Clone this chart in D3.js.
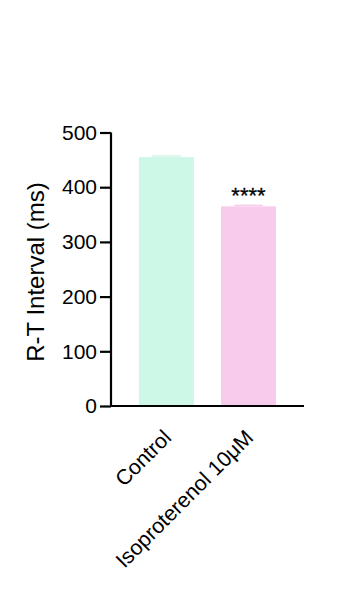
<!DOCTYPE html>
<html><head><meta charset="utf-8">
<script src="https://cdn.jsdelivr.net/npm/d3@7"></script>
<style>html,body{margin:0;padding:0;background:#fff;}svg{display:block;}</style>
</head><body>
<script>
const categories = ["Control", "Isoproterenol 10μM"];
const values = [455, 365];
const errors = [2, 2];
const colors = ["#cdf7e6", "#f8cbed"];
const capColors = ["#bdf0da", "#f2b9e4"];
const significance = ["", "****"];
const yTicks = [0, 100, 200, 300, 400, 500];
const yLabel = "R-T Interval (ms)";

const W = 340, H = 605;
const svg = d3.select("body").append("svg").attr("width", W).attr("height", H);
const font = "'Liberation Sans', Arial, sans-serif";

const x0 = 111, x1 = 304, yTop = 132.5, yBot = 406;
const y = d3.scaleLinear().domain([0, 500]).range([yBot, yTop]);
const x = d3.scaleBand().domain(categories).range([139, 276]).paddingInner(0.329).paddingOuter(0);

// bars
svg.selectAll("rect.bar").data(categories).enter().append("rect")
  .attr("x", d => x(d)).attr("width", x.bandwidth())
  .attr("y", (d, i) => y(values[i])).attr("height", (d, i) => yBot - y(values[i]))
  .attr("fill", (d, i) => colors[i]);

// error caps
svg.selectAll("line.cap").data(categories).enter().append("line")
  .attr("x1", d => x(d) + x.bandwidth() * 0.24).attr("x2", d => x(d) + x.bandwidth() * 0.76)
  .attr("y1", (d, i) => y(values[i] + errors[i])).attr("y2", (d, i) => y(values[i] + errors[i]))
  .attr("stroke", (d, i) => capColors[i]).attr("stroke-width", 1);

// significance
svg.selectAll("text.sig").data(categories).enter().append("text")
  .attr("x", d => x(d) + x.bandwidth() / 2).attr("y", (d, i) => y(values[i]) - 3)
  .attr("text-anchor", "middle").attr("font-family", font).attr("font-size", 22)
  .attr("stroke", "#000").attr("stroke-width", 0.3)
  .text((d, i) => significance[i]);

// y axis
const yAxis = d3.axisLeft(y).tickValues(yTicks).tickSize(11).tickPadding(3);
const gy = svg.append("g").attr("transform", `translate(${x0},0)`).call(yAxis);
gy.select(".domain").attr("stroke", "#000").attr("stroke-width", 2.2).attr("d", `M0,${yTop}V${yBot}`);
gy.selectAll(".tick line").attr("stroke", "#000").attr("stroke-width", 2.2);
gy.selectAll(".tick text").attr("font-family", font).attr("font-size", 21).attr("fill", "#000");

// x axis
const xAxis = d3.axisBottom(x).tickSize(0).tickPadding(0);
const gx = svg.append("g").attr("transform", `translate(0,${yBot})`).call(xAxis);
gx.select(".domain").attr("stroke", "#000").attr("stroke-width", 2.2).attr("d", `M${x0 - 1},0H${x1}`);
gx.selectAll(".tick text")
  .attr("font-family", font).attr("font-size", 21.3).attr("fill", "#000")
  .attr("text-anchor", "end").attr("dy", null)
  .attr("transform", "translate(6,33) rotate(-45)");

// y label
svg.append("text")
  .attr("transform", `translate(44,272) rotate(-90)`)
  .attr("text-anchor", "middle").attr("font-family", font).attr("font-size", 24)
  .text(yLabel);
</script>
</body></html>
